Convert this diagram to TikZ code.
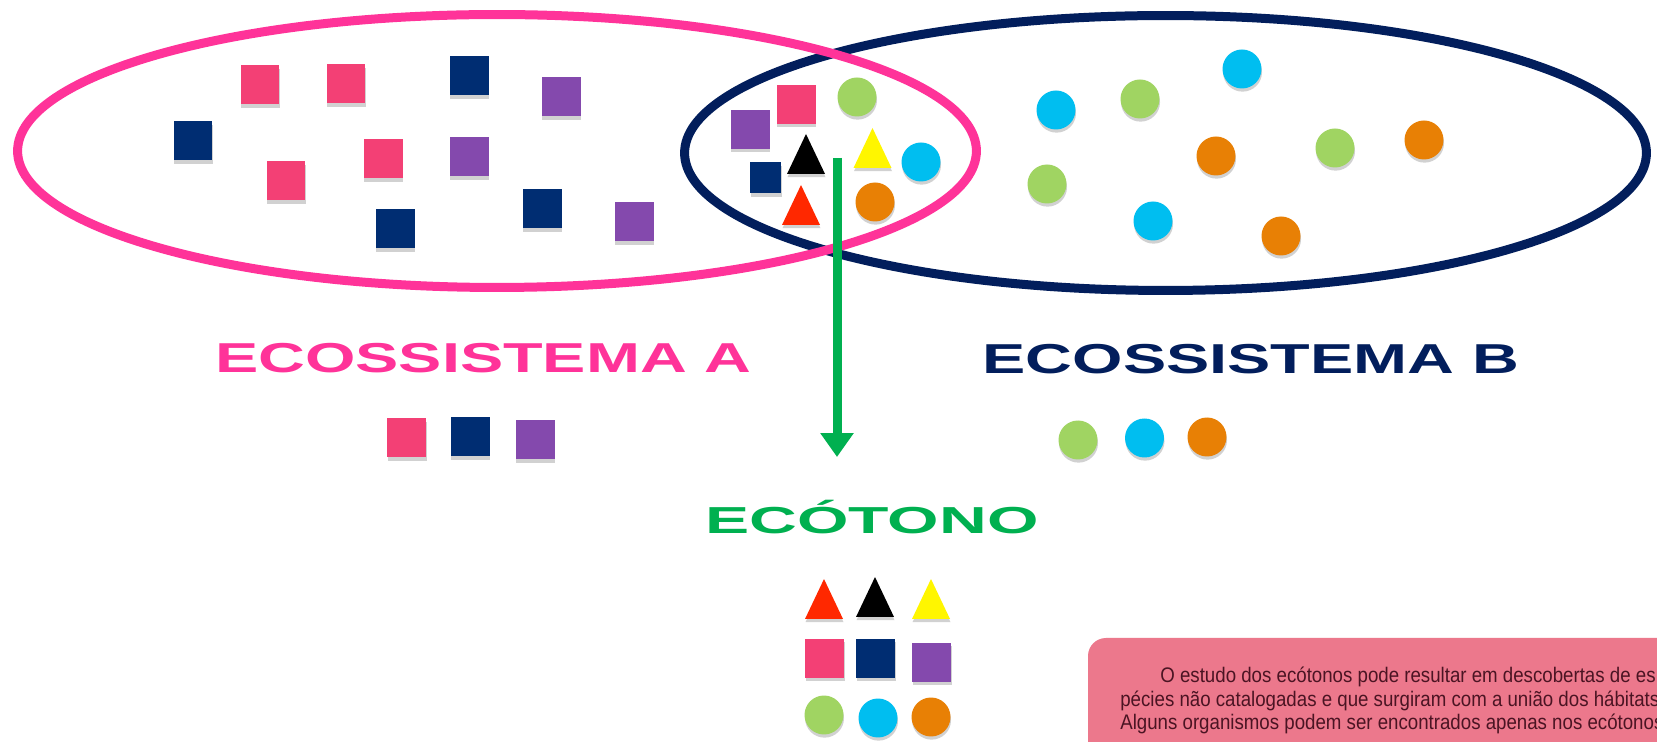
\documentclass[tikz,border=0pt]{standalone}
\usepackage{fontspec}
\setmainfont{Liberation Sans}
\usetikzlibrary{shapes.geometric,shadows,arrows.meta}

\definecolor{ecoA}{RGB}{255,51,153}
\definecolor{ecoB}{RGB}{2,30,92}
\definecolor{sqpink}{RGB}{243,64,117}
\definecolor{sqnavy}{RGB}{0,45,114}
\definecolor{sqpurple}{RGB}{132,73,173}
\definecolor{dotgreen}{RGB}{160,212,98}
\definecolor{dotcyan}{RGB}{0,190,240}
\definecolor{dotorange}{RGB}{232,128,5}
\definecolor{trired}{RGB}{255,40,0}
\definecolor{triyellow}{RGB}{255,246,0}
\definecolor{ecogreen}{RGB}{0,176,80}
\definecolor{notefill}{RGB}{236,120,140}
\definecolor{notetext}{RGB}{75,20,35}

\tikzset{
  organism/.style={inner sep=0pt, outer sep=0pt,
    drop shadow={shadow xshift=0.3pt, shadow yshift=-1.8pt, fill=black, opacity=0.18}},
  orgsq/.style={organism, rectangle, minimum size=0.78cm, fill=#1},
  orgdot/.style={organism, circle, minimum size=0.78cm, fill=#1},
  orgtri/.style={organism, isosceles triangle, isosceles triangle stretches,
    shape border rotate=90, minimum width=0.76cm, minimum height=0.8cm, fill=#1, anchor=south},
  habitat/.style={ellipse, draw=#1, line width=0.18cm, inner sep=0pt},
  econame/.style={text=#1, inner sep=0pt, font=\fontsize{23.8}{28}\selectfont\bfseries},
  noteline/.style={text=notetext, inner sep=0pt, anchor=base west, font=\fontsize{12}{14}\selectfont}
}

\begin{document}
\begin{tikzpicture}[x=0.02cm, y=-0.02cm]
  \path[use as bounding box, fill=white] (0,0) rectangle (1657,742);
  \clip (0,0) rectangle (1657,742);

  \node[habitat=ecoB, minimum width=19.24cm, minimum height=5.5cm] (habB) at (1165.5,153) {};
  \node[habitat=ecoA, minimum width=19.18cm, minimum height=5.46cm] (habA) at (497,151) {};

  \node[orgsq=sqpink] (a1) at (260,85) {};
  \node[orgsq=sqpink] (a2) at (346,84) {};
  \node[orgsq=sqpink] (a3) at (286,181) {};
  \node[orgsq=sqpink] (a4) at (383,159) {};
  \node[orgsq=sqnavy] (a5) at (469,76) {};
  \node[orgsq=sqnavy] (a6) at (193,141) {};
  \node[orgsq=sqnavy] (a7) at (395,229) {};
  \node[orgsq=sqnavy] (a8) at (542,209) {};
  \node[orgsq=sqpurple] (a9) at (561,97) {};
  \node[orgsq=sqpurple] (a10) at (469,157) {};
  \node[orgsq=sqpurple] (a11) at (634,222) {};

  \node[orgsq=sqpurple] (o1) at (750,129.5) {};
  \node[orgsq=sqpink] (o2) at (796,104.5) {};
  \node[orgsq=sqnavy, minimum size=0.62cm] (o3) at (765.5,178) {};
  \node[orgtri=black] (o4) at (806,174) {};
  \node[orgtri=trired] (o5) at (801,225) {};
  \node[orgtri=triyellow] (o6) at (872.5,168) {};
  \node[orgdot=dotgreen] (o7) at (857,97) {};
  \node[orgdot=dotcyan] (o8) at (921,162) {};
  \node[orgdot=dotorange] (o9) at (875,202) {};

  \node[orgdot=dotgreen] (b1) at (1140,99) {};
  \node[orgdot=dotgreen] (b2) at (1047,184) {};
  \node[orgdot=dotgreen] (b3) at (1335,148) {};
  \node[orgdot=dotcyan] (b4) at (1242,69) {};
  \node[orgdot=dotcyan] (b5) at (1056,110) {};
  \node[orgdot=dotcyan] (b6) at (1153,221) {};
  \node[orgdot=dotorange] (b7) at (1216,156) {};
  \node[orgdot=dotorange] (b8) at (1424,140) {};
  \node[orgdot=dotorange] (b9) at (1281,236) {};

  \coordinate (arrowtop) at (837,158);
  \coordinate (arrowtip) at (837,457);
  \draw[ecogreen, line width=0.18cm, -{Triangle[width=0.64cm, length=0.48cm]}] (arrowtop) -- (arrowtip);

  \node[econame=ecoA] (nameA) at (483.5,358) {\scalebox{1.55}[1]{ECOSSISTEMA A}};
  \node[econame=ecoB] (nameB) at (1251,359) {\scalebox{1.55}[1]{ECOSSISTEMA B}};
  \node[econame=ecogreen, anchor=base, font=\fontsize{21.4}{26}\selectfont\bfseries] (nameEco) at (872,534) {\scalebox{1.76}[1]{ECÓTONO}};

  \node[orgsq=sqpink] (keyA1) at (406.5,438) {};
  \node[orgsq=sqnavy] (keyA2) at (470,437) {};
  \node[orgsq=sqpurple] (keyA3) at (535,440) {};
  \node[orgdot=dotgreen] (keyB1) at (1078,440) {};
  \node[orgdot=dotcyan] (keyB2) at (1144.5,438) {};
  \node[orgdot=dotorange] (keyB3) at (1207,437) {};

  \node[orgtri=trired] (eco1) at (824,619) {};
  \node[orgtri=black] (eco2) at (875,617) {};
  \node[orgtri=triyellow] (eco3) at (931,619) {};
  \node[orgsq=sqpink] (eco4) at (824.5,658.5) {};
  \node[orgsq=sqnavy] (eco5) at (875.5,658.5) {};
  \node[orgsq=sqpurple] (eco6) at (931.5,662.5) {};
  \node[orgdot=dotgreen] (eco7) at (824,715) {};
  \node[orgdot=dotcyan] (eco8) at (878,718) {};
  \node[orgdot=dotorange] (eco9) at (931,717) {};

  \fill[notefill, rounded corners=0.36cm] (1088,638) rectangle (1760,820);
  \node[noteline] (note1) at (1160,683) {\scalebox{0.886}[1]{O estudo dos ecótonos pode resultar em descobertas de es}};
  \node[noteline] (note2) at (1120,706.5) {\scalebox{0.886}[1]{pécies não catalogadas e que surgiram com a união dos hábitats}};
  \node[noteline] (note3) at (1120,730) {\scalebox{0.886}[1]{Alguns organismos podem ser encontrados apenas nos ecótonos}};
\end{tikzpicture}
\end{document}
